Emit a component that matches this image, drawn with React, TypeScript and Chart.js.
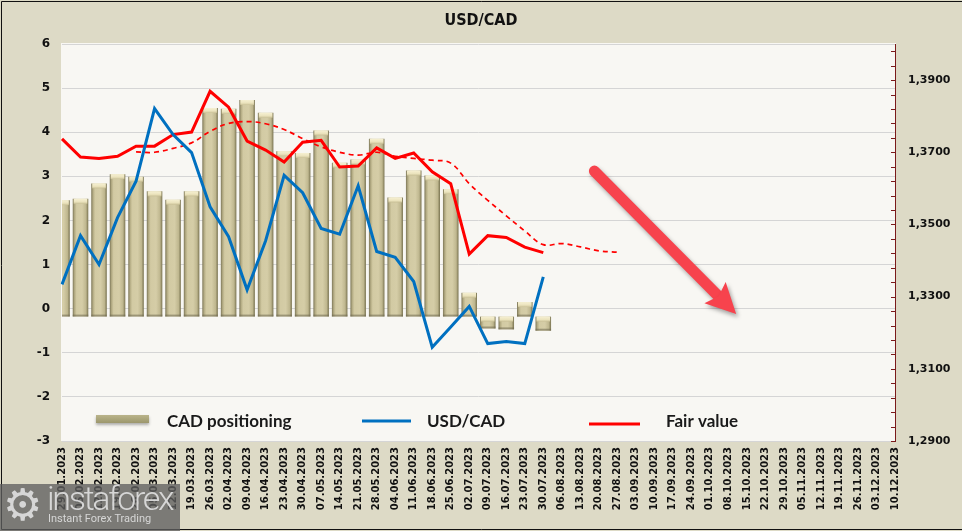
import React, { useEffect, useRef } from 'react';
import { Chart, registerables } from 'chart.js';

Chart.register(...registerables);

const weeks = [
  '29.01.2023', '05.02.2023', '12.02.2023', '19.02.2023', '26.02.2023', '05.03.2023', '12.03.2023',
  '19.03.2023', '26.03.2023', '02.04.2023', '09.04.2023', '16.04.2023', '23.04.2023', '30.04.2023',
  '07.05.2023', '14.05.2023', '21.05.2023', '28.05.2023', '04.06.2023', '11.06.2023', '18.06.2023',
  '25.06.2023', '02.07.2023', '09.07.2023', '16.07.2023', '23.07.2023', '30.07.2023', '06.08.2023',
  '13.08.2023', '20.08.2023', '27.08.2023', '03.09.2023', '10.09.2023', '17.09.2023', '24.09.2023',
  '01.10.2023', '08.10.2023', '15.10.2023', '22.10.2023', '29.10.2023', '05.11.2023', '12.11.2023',
  '19.11.2023', '26.11.2023', '03.12.2023', '10.12.2023',
];

const cadPositioning = [
  2.46, 2.49, 2.84, 3.05, 2.99, 2.66, 2.47, 2.66, 4.55, 4.53, 4.73, 4.44, 3.57, 3.53,
  4.04, 3.31, 3.38, 3.85, 2.52, 3.13, 3.02, 2.71, 0.36, -0.45, -0.47, 0.15, -0.5,
];

const usdCad = [
  1.3334, 1.3469, 1.3389, 1.3519, 1.362, 1.3821, 1.3749, 1.3699, 1.3549, 1.3466, 1.3319,
  1.3455, 1.3636, 1.3588, 1.3489, 1.3473, 1.3607, 1.3425, 1.3409, 1.3342, 1.316, 1.3216,
  1.3273, 1.317, 1.3176, 1.317, 1.3355,
];

const fairValue = [
  1.3737, 1.3687, 1.3683, 1.3689, 1.3717, 1.3717, 1.3749, 1.3756, 1.3869, 1.3825, 1.3731,
  1.3706, 1.3673, 1.3728, 1.3733, 1.3659, 1.3662, 1.3712, 1.3683, 1.3698, 1.3646, 1.3613,
  1.3418, 1.3469, 1.3464, 1.3437, 1.3422,
];

const fairTrend = [
  null, null, null, null, 1.3701, 1.37, 1.3711, 1.3726, 1.3758, 1.378, 1.3785, 1.3779,
  1.3763, 1.3738, 1.3715, 1.37, 1.3692, 1.37, 1.3689, 1.3683, 1.3678, 1.367, 1.3613,
  1.3567, 1.3524, 1.3482, 1.3444, 1.3447, 1.3438, 1.3427, 1.3423,
];

const leftTicks = [-3, -2, -1, 0, 1, 2, 3, 4, 5, 6];
const rightTicks = [1.29, 1.31, 1.33, 1.35, 1.37, 1.39];
const rightMinorStep = 0.004;

// arrow in data coordinates: [category index, USD/CAD value]
const arrowStart = [28.76, 1.3648];
const arrowEnd = [36.42, 1.3252];

const legendItems = ['CAD positioning', 'USD/CAD', 'Fair value'];

const BEIGE = '#dddac6';
const PLOT = '#f8f7f3';
const BLUE = '#0070c0';
const RED = '#ff0000';

const TICK_FONT = 'DejaVu Sans';

const bgPlugin = {
  id: 'bgPlugin',
  beforeDraw(chart: any) {
    const { ctx, width, height, chartArea } = chart;
    ctx.save();
    ctx.fillStyle = BEIGE;
    ctx.fillRect(0, 0, width, height);
    ctx.fillStyle = PLOT;
    ctx.fillRect(chartArea.left - 1, chartArea.top - 1, chartArea.right - chartArea.left + 2, chartArea.bottom - chartArea.top + 1);
    ctx.strokeStyle = '#111';
    ctx.lineWidth = 1;
    ctx.beginPath();
    ctx.moveTo(width, 1.5);
    ctx.lineTo(1.5, 1.5);
    ctx.lineTo(1.5, height - 1.5);
    ctx.lineTo(width, height - 1.5);
    ctx.stroke();
    ctx.fillStyle = '#111';
    ctx.font = `bold 16px "DejaVu Sans Condensed", "${TICK_FONT}"`;
    ctx.textAlign = 'center';
    ctx.textBaseline = 'middle';
    ctx.fillText('USD/CAD', width / 2, 21);
    ctx.restore();
  },
};

const barDecorPlugin = {
  id: 'barDecor',
  afterDatasetDraw(chart: any, args: any) {
    const meta = chart.getDatasetMeta(args.index);
    if (!meta || meta.type !== 'bar') return;
    const { ctx, chartArea } = chart;
    ctx.save();
    ctx.beginPath();
    ctx.rect(chartArea.left, chartArea.top, chartArea.right - chartArea.left, chartArea.bottom - chartArea.top);
    ctx.clip();
    meta.data.forEach((el: any) => {
      const p = el.getProps(['x', 'y', 'base', 'width'], true);
      if (![p.x, p.y, p.base, p.width].every((v: any) => Number.isFinite(v))) return;
      const l = p.x - p.width / 2;
      const top = Math.min(p.y, p.base);
      const bot = Math.max(p.y, p.base);
      const g = ctx.createLinearGradient(0, top, 0, top + 5);
      g.addColorStop(0, '#f6f0d2');
      g.addColorStop(0.6, '#ebe3bd');
      g.addColorStop(1, '#c9c096');
      ctx.fillStyle = g;
      ctx.fillRect(l + 1, top, p.width - 2, 5);
      ctx.fillStyle = 'rgba(110,104,78,0.55)';
      ctx.fillRect(l, bot - 2, p.width, 2);
    });
    ctx.restore();
  },
};

const rightTickPlugin = {
  id: 'rightTicks',
  afterDraw(chart: any) {
    const { ctx, chartArea } = chart;
    const s = chart.scales.y1;
    ctx.save();
    ctx.strokeStyle = '#7a1a1a';
    ctx.lineWidth = 1;
    ctx.beginPath();
    for (let v = s.min; v <= s.max + 1e-9; v += rightMinorStep) {
      const y = Math.round(s.getPixelForValue(v)) + 0.5;
      ctx.moveTo(chartArea.right - 4, y);
      ctx.lineTo(chartArea.right, y);
    }
    ctx.stroke();
    ctx.restore();
  },
};

const arrowPlugin = {
  id: 'arrow',
  afterDatasetsDraw(chart: any) {
    const { ctx } = chart;
    const xs = chart.scales.x;
    const ys = chart.scales.y1;
    const x1 = xs.getPixelForValue(arrowStart[0]);
    const y1 = ys.getPixelForValue(arrowStart[1]);
    const x2 = xs.getPixelForValue(arrowEnd[0]);
    const y2 = ys.getPixelForValue(arrowEnd[1]);
    if (![x1, y1, x2, y2].every((v) => Number.isFinite(v))) return;
    const ang = Math.atan2(y2 - y1, x2 - x1);
    const headLen = 30;
    const headHalf = 15;
    const bx = x2 - headLen * Math.cos(ang);
    const by = y2 - headLen * Math.sin(ang);
    const px = -Math.sin(ang);
    const py = Math.cos(ang);
    ctx.save();
    ctx.shadowColor = 'rgba(0,0,0,0.35)';
    ctx.shadowBlur = 4;
    ctx.shadowOffsetX = 2;
    ctx.shadowOffsetY = 3;
    ctx.strokeStyle = '#f7434d';
    ctx.fillStyle = '#f7434d';
    ctx.lineWidth = 11;
    ctx.lineCap = 'round';
    ctx.beginPath();
    ctx.moveTo(x1, y1);
    ctx.lineTo(bx + 4 * Math.cos(ang), by + 4 * Math.sin(ang));
    ctx.stroke();
    ctx.beginPath();
    ctx.moveTo(x2, y2);
    ctx.lineTo(bx + headHalf * px, by + headHalf * py);
    ctx.lineTo(bx + 5 * Math.cos(ang), by + 5 * Math.sin(ang));
    ctx.lineTo(bx - headHalf * px, by - headHalf * py);
    ctx.closePath();
    ctx.fill();
    ctx.restore();
  },
};

const legendPlugin = {
  id: 'customLegend',
  afterDraw(chart: any) {
    const { ctx } = chart;
    ctx.save();
    ctx.shadowColor = 'rgba(0,0,0,0.3)';
    ctx.shadowBlur = 3;
    ctx.shadowOffsetY = 2;
    const g = ctx.createLinearGradient(0, 415, 0, 423);
    g.addColorStop(0, '#bab48a');
    g.addColorStop(1, '#9c976c');
    ctx.fillStyle = g;
    ctx.fillRect(96, 415, 53, 8);
    ctx.shadowColor = 'transparent';
    ctx.font = 'bold 17px Lato';
    ctx.fillStyle = '#1a1a1a';
    ctx.textBaseline = 'middle';
    ctx.textAlign = 'left';
    ctx.fillText(legendItems[0], 167, 422);
    ctx.strokeStyle = BLUE;
    ctx.lineWidth = 3;
    ctx.beginPath();
    ctx.moveTo(362, 421);
    ctx.lineTo(411, 421);
    ctx.stroke();
    ctx.fillText(legendItems[1], 427, 422);
    ctx.strokeStyle = RED;
    ctx.beginPath();
    ctx.moveTo(589, 424);
    ctx.lineTo(640, 424);
    ctx.stroke();
    ctx.fillText(legendItems[2], 666, 422);
    ctx.restore();
  },
};

export default function App() {
  const canvasRef = useRef<HTMLCanvasElement | null>(null);

  useEffect(() => {
    const canvas = canvasRef.current;
    if (!canvas) return;

    const barFill = (c: any) => {
      const chart = c.chart;
      const xs = chart.scales?.x;
      if (!xs || c.dataIndex == null) return '#cfc7a0';
      const x = xs.getPixelForValue(c.dataIndex);
      const w = (xs.getPixelForValue(1) - xs.getPixelForValue(0)) * 0.84;
      if (!Number.isFinite(x) || !Number.isFinite(w) || w <= 0) return '#cfc7a0';
      const g = chart.ctx.createLinearGradient(x - w / 2, 0, x + w / 2, 0);
      g.addColorStop(0, '#7c7657');
      g.addColorStop(0.12, '#b4ac84');
      g.addColorStop(0.25, '#d2caa3');
      g.addColorStop(0.6, '#d5cda7');
      g.addColorStop(0.85, '#bfb78f');
      g.addColorStop(1, '#78724f');
      return g;
    };

    const chart = new Chart(canvas, {
      type: 'bar',
      data: {
        labels: weeks,
        datasets: [
          {
            type: 'line',
            label: legendItems[1],
            data: usdCad,
            yAxisID: 'y1',
            borderColor: BLUE,
            borderWidth: 3,
            pointRadius: 0,
            tension: 0,
            order: 0,
          } as any,
          {
            type: 'line',
            label: legendItems[2],
            data: fairValue,
            yAxisID: 'y1',
            borderColor: RED,
            borderWidth: 3,
            pointRadius: 0,
            tension: 0,
            order: 1,
          },
          {
            type: 'line',
            label: 'Fair value trend',
            data: fairTrend,
            yAxisID: 'y1',
            borderColor: RED,
            borderWidth: 1.7,
            borderDash: [5, 4],
            pointRadius: 0,
            tension: 0.4,
            order: 2,
          },
          {
            type: 'bar',
            label: legendItems[0],
            data: cadPositioning,
            yAxisID: 'y',
            base: -0.18,
            backgroundColor: barFill,
            borderWidth: 0,
            barPercentage: 0.84,
            categoryPercentage: 1,
            order: 3,
          } as any,
        ],
      },
      options: {
        animation: false,
        responsive: false,
        events: [],
        layout: { padding: { top: 44, left: 0, right: 0, bottom: 0 } },
        plugins: {
          legend: { display: false },
          title: { display: false },
          tooltip: { enabled: false },
        },
        scales: {
          x: {
            type: 'category',
            offset: false,
            grid: { display: false, drawTicks: false, offset: false },
            border: { display: false },
            ticks: {
              autoSkip: false,
              maxRotation: 90,
              minRotation: 90,
              padding: 6,
              color: '#111',
              font: { family: TICK_FONT, size: 10, weight: 'bold' },
            },
            afterFit: (s: any) => {
              s.height = 90;
            },
          },
          y: {
            position: 'left',
            min: -3,
            max: 6,
            afterBuildTicks: (s: any) => {
              s.ticks = leftTicks.map((v) => ({ value: v }));
            },
            grid: { color: '#d5d5d5', lineWidth: 1, drawTicks: false },
            border: { display: false },
            ticks: {
              padding: 12,
              color: '#111',
              font: { family: TICK_FONT, size: 12, weight: 'bold' },
            },
            afterFit: (s: any) => {
              s.width = 62;
            },
          },
          y1: {
            position: 'right',
            min: 1.29,
            max: 1.4,
            afterBuildTicks: (s: any) => {
              s.ticks = rightTicks.map((v) => ({ value: v }));
            },
            grid: { drawOnChartArea: false, drawTicks: false },
            border: { display: true, color: '#7a1a1a', width: 1 },
            ticks: {
              padding: 13,
              color: '#111',
              font: { family: TICK_FONT, size: 11, weight: 'bold' },
              callback: (v: any) => Number(v).toFixed(4).replace('.', ','),
            },
            afterFit: (s: any) => {
              s.width = 67;
            },
          },
        },
      },
      plugins: [bgPlugin, barDecorPlugin, arrowPlugin, rightTickPlugin, legendPlugin],
    });

    return () => {
      chart.destroy();
    };
  }, []);

  return (
    <div style={{ position: 'absolute', left: 0, top: 0, width: 962, height: 531, overflow: 'hidden' }}>
      <canvas ref={canvasRef} width={962} height={531} style={{ display: 'block', width: 962, height: 531 }} />
      <div
        style={{
          position: 'absolute',
          left: 0,
          top: 484,
          width: 180,
          height: 47,
          background: 'rgba(95,95,95,0.78)',
          color: '#d6d6d6',
          overflow: 'hidden',
        }}
      >
        <div style={{ position: 'absolute', left: 3, top: -5, fontSize: 44, fontFamily: 'DejaVu Sans', lineHeight: '52px' }}>
          ⚙
        </div>
        <div
          style={{
            position: 'absolute',
            left: 47,
            top: -7,
            fontSize: 34,
            fontWeight: 300,
            fontFamily: 'Roboto',
            letterSpacing: -2.3,
            lineHeight: '42px',
          }}
        >
          instaforex
        </div>
        <div
          style={{
            position: 'absolute',
            left: 48,
            top: 28,
            fontSize: 11,
            fontFamily: 'Roboto',
            lineHeight: '14px',
          }}
        >
          Instant Forex Trading
        </div>
      </div>
    </div>
  );
}
